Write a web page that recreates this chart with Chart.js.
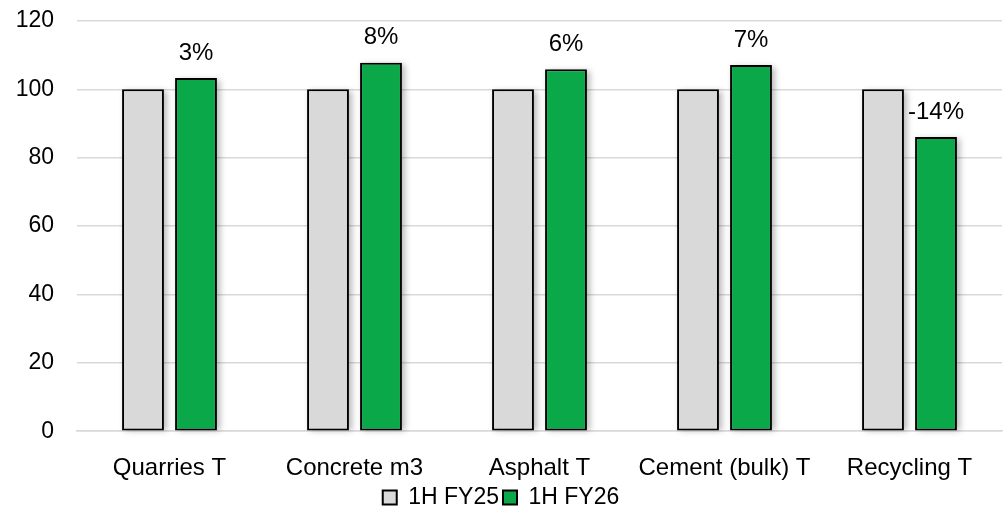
<!DOCTYPE html>
<html>
<head>
<meta charset="utf-8">
<script src="https://cdn.jsdelivr.net/npm/chart.js@4/dist/chart.umd.min.js"></script>
<style>
  html, body { margin: 0; padding: 0; background: #fff; }
  #wrap { width: 1008px; height: 515px; }
</style>
</head>
<body>
<div id="wrap"><canvas id="volumeChart"></canvas></div>
<script>
"use strict";
// ========== DATA ========== //
const categories = ["Quarries T", "Concrete m3", "Asphalt T", "Cement (bulk) T", "Recycling T"];
const fy25Values = [100, 100, 100, 100, 100];
const fy26Values = [103.3, 107.8, 105.9, 107.1, 86.1];
const changeLabels = ["3%", "8%", "6%", "7%", "-14%"];
const yTicks = [0, 20, 40, 60, 80, 100, 120];

const FONT = "'Liberation Sans', Arial, sans-serif";

// soft drop shadow behind the bars
const barShadow = {
  id: "barShadow",
  beforeDatasetsDraw(chart) {
    const ctx = chart.ctx;
    ctx.save();
    ctx.fillStyle = "rgba(0,0,0,0.28)";
    ctx.filter = "blur(3px)";
    chart.data.datasets.forEach((ds, d) => {
      chart.getDatasetMeta(d).data.forEach(bar => {
        const p = bar.getProps(["x", "y", "base", "width"], true);
        ctx.fillRect(p.x - p.width / 2 + 3, p.y + 2, p.width, p.base - p.y - 2);
      });
    });
    ctx.restore();
  }
};

// % change labels above the green bars
const changeText = {
  id: "changeText",
  afterDatasetsDraw(chart) {
    const ctx = chart.ctx;
    const meta = chart.getDatasetMeta(1);
    ctx.save();
    ctx.font = "24px " + FONT;
    ctx.fillStyle = "#000";
    ctx.textAlign = "center";
    ctx.textBaseline = "middle";
    meta.data.forEach((bar, i) => {
      ctx.fillText(changeLabels[i], bar.x, bar.y - 25);
    });
    ctx.restore();
  }
};

let chart = new Chart(document.querySelector("#volumeChart"), {
  type: "bar",
  data: {
    labels: categories,
    datasets: [
      {
        label: "1H FY25",
        data: fy25Values,
        backgroundColor: "#d9d9d9",
        borderColor: "#000",
        borderWidth: 2,
        borderSkipped: false,
        barPercentage: 0.79,
        categoryPercentage: 0.573
      },
      {
        label: "1H FY26",
        data: fy26Values,
        backgroundColor: "#0ba84a",
        borderColor: "#000",
        borderWidth: 2,
        borderSkipped: false,
        barPercentage: 0.79,
        categoryPercentage: 0.573
      }
    ]
  },
  options: {
    responsive: true,
    maintainAspectRatio: false,
    animation: false,
    layout: { padding: { top: 21, right: 6, left: 0, bottom: -4 } },
    plugins: {
      legend: {
        position: "bottom",
        labels: {
          font: { family: FONT, size: 23 },
          color: "#000",
          boxWidth: 14,
          boxHeight: 14,
          padding: 4,
          useBorderRadius: false
        }
      },
      tooltip: { enabled: false }
    },
    scales: {
      x: {
        grid: { display: false },
        border: { display: true, color: "#d9d9d9", width: 1.5 },
        afterFit: axis => { axis.height = axis.height - 16; },
        ticks: {
          color: "#000",
          font: { family: FONT, size: 24 },
          padding: 15
        }
      },
      y: {
        min: 0,
        max: 120,
        afterBuildTicks: axis => { axis.ticks = yTicks.map(v => ({ value: v })); },
        afterFit: axis => {
          axis.width = 77;
          axis.paddingTop = 0;
          axis.paddingBottom = 0;
        },
        grid: { color: "#d9d9d9", lineWidth: 1.5, drawTicks: false },
        border: { display: false },
        ticks: {
          color: "#000",
          font: { family: FONT, size: 23 },
          padding: 23
        }
      }
    }
  },
  plugins: [barShadow, changeText]
});
</script>
</body>
</html>
